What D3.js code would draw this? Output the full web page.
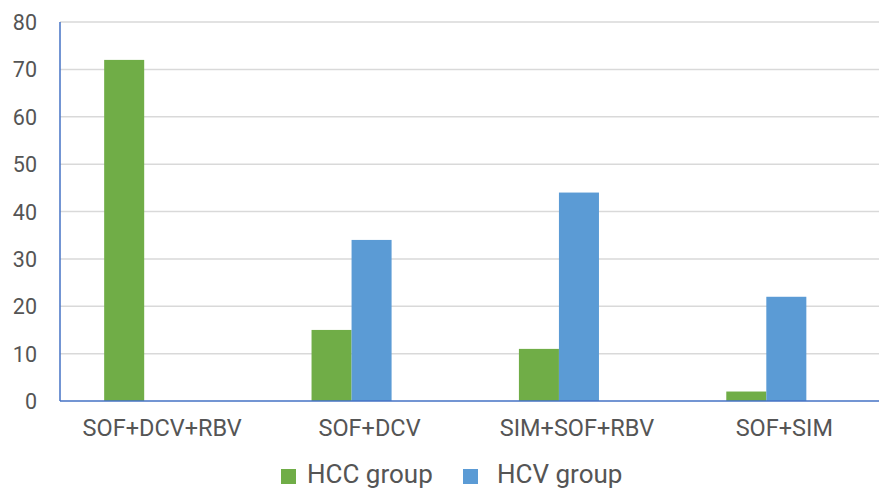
<!DOCTYPE html>
<html>
<head>
<meta charset="utf-8">
<script src="https://cdn.jsdelivr.net/npm/d3@7"></script>
<style>
  body { margin: 0; background: #fff; }
  text { font-family: Roboto, "Liberation Sans", Arial, sans-serif; fill: #555555; }
</style>
</head>
<body>
<div id="chart"></div>
<script>
// dữ liệu
const categories = ["SOF+DCV+RBV", "SOF+DCV", "SIM+SOF+RBV", "SOF+SIM"];
const seriesNames = ["HCC group", "HCV group"];
const hccValues = [72, 15, 11, 2];
const hcvValues = [0, 34, 44, 22];
const yTicks = [0, 10, 20, 30, 40, 50, 60, 70, 80];
const colors = ["#70ad47", "#5b9bd5"];

const W = 879, H = 490;
const svg = d3.select("#chart").append("svg")
    .attr("width", W).attr("height", H);

const axisX = 60, plotRight = 879;

const x0 = d3.scaleBand()
    .domain(categories)
    .range([40.5, 870])
    .paddingInner(0.614)
    .paddingOuter(0.307);

const x1 = d3.scaleBand()
    .domain(seriesNames)
    .range([0, x0.bandwidth()]);

const y = d3.scaleLinear().domain([0, 80]).range([401, 22]);

// gridlines
svg.append("g").selectAll("line")
    .data(yTicks.filter(d => d > 0))
    .enter().append("line")
    .attr("x1", axisX).attr("x2", plotRight)
    .attr("y1", d => y(d)).attr("y2", d => y(d))
    .attr("stroke", "#d9d9d9").attr("stroke-width", 1.5);

// y tick labels
svg.append("g").selectAll("text")
    .data(yTicks)
    .enter().append("text")
    .attr("x", 37)
    .attr("y", d => y(d) + 8)
    .attr("text-anchor", "end")
    .style("font-size", "21.5px")
    .text(d => d);

// bars
const rows = categories.map((c, i) => ({ cat: c, vals: [hccValues[i], hcvValues[i]] }));
const groups = svg.selectAll(".grp")
    .data(rows).enter().append("g")
    .attr("transform", d => `translate(${x0(d.cat)},0)`);

groups.selectAll("rect")
    .data(d => d.vals.map((v, j) => ({ name: seriesNames[j], v: v, j: j })))
    .enter().append("rect")
    .attr("x", d => x1(d.name))
    .attr("y", d => y(d.v))
    .attr("width", x1.bandwidth())
    .attr("height", d => y(0) - y(d.v))
    .attr("fill", d => colors[d.j]);

// axes lines
svg.append("line")
    .attr("x1", axisX).attr("x2", axisX)
    .attr("y1", y(80)).attr("y2", y(0))
    .attr("stroke", "#4472c4").attr("stroke-width", 1.5);
svg.append("line")
    .attr("x1", axisX).attr("x2", plotRight)
    .attr("y1", y(0)).attr("y2", y(0))
    .attr("stroke", "#4472c4").attr("stroke-width", 1.5);

// category labels
svg.append("g").selectAll("text")
    .data(categories)
    .enter().append("text")
    .attr("x", d => x0(d) + x0.bandwidth() / 2 + 18)
    .attr("y", 436)
    .attr("text-anchor", "middle")
    .style("font-size", "23.5px")
    .text(d => d);

// legend
const legendX = [281, 463];
const legendTextDx = [26, 34];
const legend = svg.append("g").selectAll("g")
    .data(seriesNames)
    .enter().append("g")
    .attr("transform", (d, i) => `translate(${legendX[i]},469)`);
legend.append("rect")
    .attr("width", 15).attr("height", 15)
    .attr("fill", (d, i) => colors[i]);
legend.append("text")
    .attr("x", (d, i) => legendTextDx[i]).attr("y", 14)
    .style("font-size", "26px")
    .text(d => d);
</script>
</body>
</html>
